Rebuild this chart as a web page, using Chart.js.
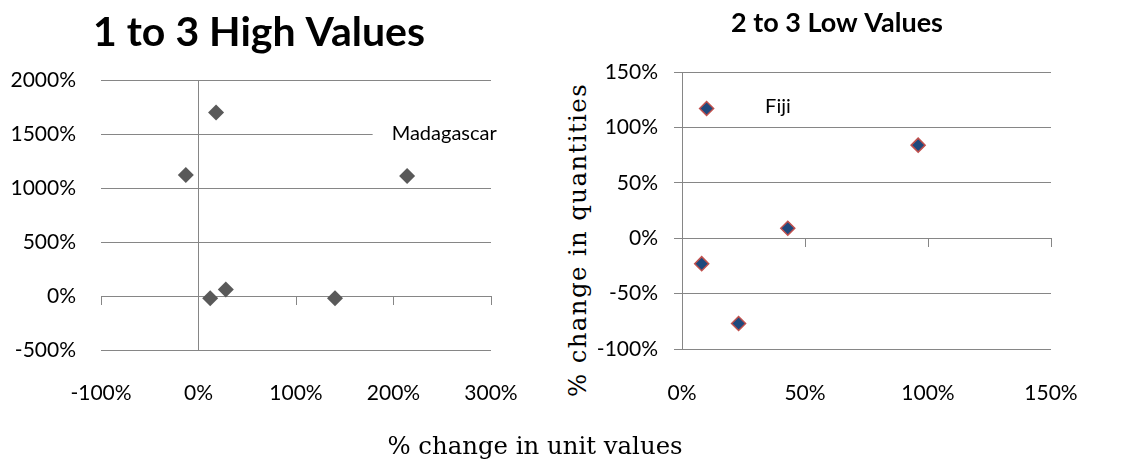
<!DOCTYPE html>
<html>
<head>
<meta charset="utf-8">
<script src="https://cdn.jsdelivr.net/npm/chart.js@4"></script>
<style>
  body { margin: 0; background: #fff; }
  #wrap { position: relative; width: 1136px; height: 466px; overflow: hidden; }
  .box { position: absolute; top: 0; height: 466px; }
  #leftBox { left: 0; width: 518px; }
  #rightBox { left: 596px; width: 482px; }
  .axisTitle { position: absolute; font-family: "DejaVu Serif", serif; font-size: 24.4px; color: #000; white-space: nowrap; }
  #xTitle { left: 535px; top: 445px; transform: translate(-50%, -50%); }
  #yTitle { left: 577px; top: 240px; transform: translate(-50%, -50%) rotate(-90deg); letter-spacing: 1.4px; }
</style>
</head>
<body>
<div id="wrap">
  <div class="box" id="leftBox"><canvas id="highChart"></canvas></div>
  <div class="box" id="rightBox"><canvas id="lowChart"></canvas></div>
  <div class="axisTitle" id="xTitle">% change in unit values</div>
  <div class="axisTitle" id="yTitle">% change in quantities</div>
</div>
<script>
// ---- data (values in percent) ----
const highX = [18, -13, 214, 12, 28, 140];
const highY = [1700, 1120, 1110, -20, 60, -20];
const highLabelText = ["Madagascar"];
const highLabelX = [252];
const highLabelY = [1500];

const lowX = [10, 96, 43, 8, 23];
const lowY = [117, 84, 9, -23, -77];
const lowLabelText = ["Fiji"];
const lowLabelX = [39];
const lowLabelY = [119];

const gridColor = "#868686";
const tickFont = { family: "Lato", size: 21 };
const pct = v => v + "%";

// text labels placed at data values, with white box behind (like Excel)
const pointLabels = {
    id: "pointLabels",
    afterDatasetsDraw(chart, args, opts) {
        const ctx = chart.ctx;
        const xs = chart.scales.x, ys = chart.scales.y;
        ctx.save();
        ctx.font = "20px Lato";
        ctx.textAlign = "center";
        ctx.textBaseline = "middle";
        opts.text.forEach((t, i) => {
            const px = xs.getPixelForValue(opts.x[i]);
            const py = ys.getPixelForValue(opts.y[i]);
            const w = ctx.measureText(t).width;
            ctx.fillStyle = "#fff";
            ctx.fillRect(px - w / 2 - 19, py - 12, w + 38, 24);
            ctx.fillStyle = "#000";
            ctx.fillText(t, px, py);
        });
        ctx.restore();
    }
};

function toPoints(xs, ys) {
    return xs.map((x, i) => ({ x: x, y: ys[i] }));
}

// x axis crossing at y=0 (tick marks only) + a bottom axis carrying the labels, like Excel "low" labels
function xAxes(min, max, step, bottomHeight, pad) {
    return {
        x: {
            type: "linear", axis: "x", position: { y: 0 },
            min: min, max: max,
            ticks: { display: false, stepSize: step },
            grid: { drawOnChartArea: false, drawTicks: true, tickLength: 8, color: gridColor },
            border: { display: true, color: gridColor },
            afterFit: s => { s.height = 0; s.paddingLeft = 0; s.paddingRight = 0; }
        },
        xb: {
            type: "linear", axis: "x", position: "bottom",
            min: min, max: max,
            ticks: { stepSize: step, color: "#000", font: tickFont, padding: pad, callback: pct, maxRotation: 0 },
            grid: { display: false, drawTicks: false },
            border: { display: false },
            afterFit: s => { s.height = bottomHeight; s.paddingLeft = 0; s.paddingRight = 0; }
        }
    };
}

// empty right-hand spacer so the title centres where Excel put it
function spacer(width) {
    return {
        type: "linear", axis: "y", position: "right",
        ticks: { display: false },
        grid: { display: false, drawTicks: false },
        border: { display: false },
        afterFit: s => { s.width = width; }
    };
}

// ------------------- LEFT: 1 to 3 High Values -------------------
new Chart(document.getElementById("highChart"), {
    type: "scatter",
    data: {
        datasets: [{
            data: toPoints(highX, highY),
            xAxisID: "x", yAxisID: "y",
            pointStyle: "rectRot",
            pointRadius: 8,
            pointHoverRadius: 8,
            backgroundColor: "#595959",
            borderColor: "#595959",
            borderWidth: 0
        }]
    },
    options: {
        responsive: true,
        maintainAspectRatio: false,
        animation: false,
        layout: { padding: 0 },
        plugins: {
            legend: { display: false },
            tooltip: { enabled: false },
            title: {
                display: true,
                text: "1 to 3 High Values",
                color: "#000",
                font: { family: "Lato", size: 41, weight: "bold", lineHeight: 1.2 },
                padding: { top: 8, bottom: 22.8 }
            },
            pointLabels: { text: highLabelText, x: highLabelX, y: highLabelY }
        },
        scales: Object.assign(xAxes(-100, 300, 100, 116, 31), {
            y: {
                type: "linear", axis: "y", position: { x: 0 },
                min: -500, max: 2000,
                ticks: { display: false, stepSize: 500 },
                grid: { color: gridColor, drawTicks: true, tickLength: 8 },
                border: { display: true, color: gridColor },
                afterFit: s => { s.width = 0; }
            },
            yl: {
                type: "linear", axis: "y", position: "left",
                min: -500, max: 2000,
                ticks: { stepSize: 500, color: "#000", font: tickFont, padding: 25, callback: pct },
                grid: { display: false, drawTicks: false },
                border: { display: false },
                afterFit: s => { s.width = 101; }
            },
            yr: spacer(27)
        })
    },
    plugins: [pointLabels]
});

// ------------------- RIGHT: 2 to 3 Low Values -------------------
new Chart(document.getElementById("lowChart"), {
    type: "scatter",
    data: {
        datasets: [{
            data: toPoints(lowX, lowY),
            xAxisID: "x", yAxisID: "y",
            pointStyle: "rectRot",
            pointRadius: 7,
            pointHoverRadius: 7,
            backgroundColor: "#1F497D",
            borderColor: "#C0504D",
            borderWidth: 1.5
        }]
    },
    options: {
        responsive: true,
        maintainAspectRatio: false,
        animation: false,
        layout: { padding: 0 },
        plugins: {
            legend: { display: false },
            tooltip: { enabled: false },
            title: {
                display: true,
                text: "2 to 3 Low Values",
                color: "#000",
                font: { family: "Lato", size: 27, weight: "bold", lineHeight: 1.2 },
                padding: { top: 7, bottom: 32.6 }
            },
            pointLabels: { text: lowLabelText, x: lowLabelX, y: lowLabelY }
        },
        scales: Object.assign(xAxes(0, 150, 50, 117, 32), {
            y: {
                type: "linear", axis: "y", position: "left",
                min: -100, max: 150,
                ticks: { stepSize: 50, color: "#000", font: tickFont, padding: 16, callback: pct },
                grid: { color: gridColor, drawTicks: true, tickLength: 8 },
                border: { display: true, color: gridColor },
                afterFit: s => { s.width = 86; }
            },
            yr: spacer(27)
        })
    },
    plugins: [pointLabels]
});
</script>
</body>
</html>
